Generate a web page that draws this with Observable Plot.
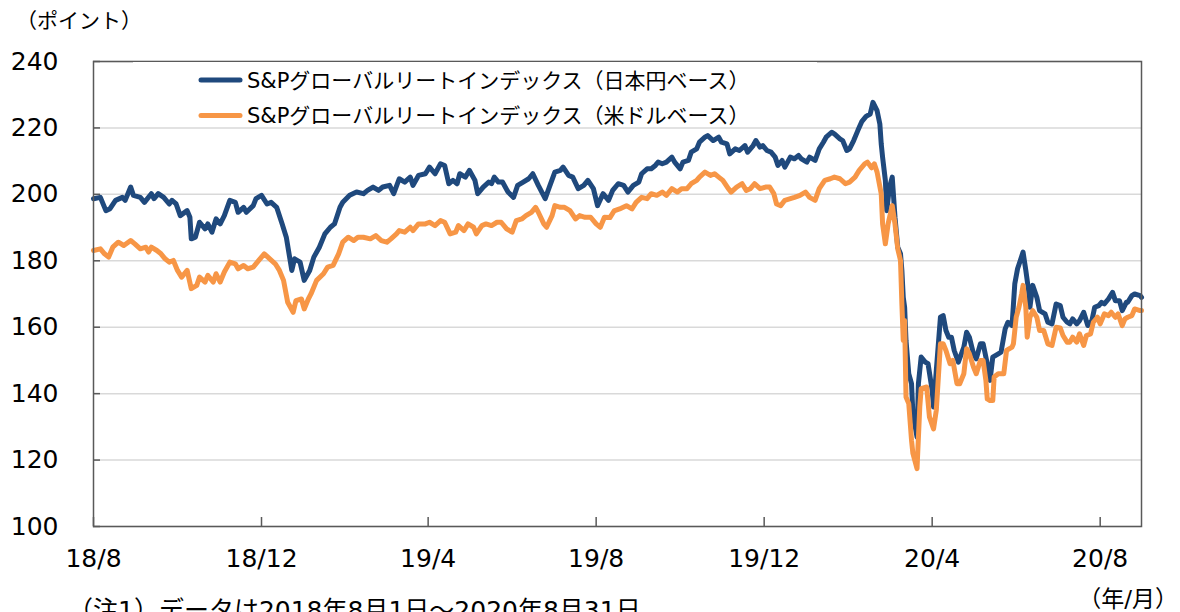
<!DOCTYPE html>
<html><head><meta charset="utf-8">
<script src="https://cdn.jsdelivr.net/npm/d3@7"></script>
<script src="https://cdn.jsdelivr.net/npm/@observablehq/plot@0.6"></script>
<style>body{margin:0;background:#fff;} svg{display:block}</style>
</head><body><div id="chart"></div>
<script>
const yTicks = [100,120,140,160,180,200,220,240];
const xTickDates = ["2018-08-01","2018-12-01","2019-04-01","2019-08-01","2019-12-01","2020-04-01","2020-08-01"];
const xTickLabels = ["18/8","18/12","19/4","19/8","19/12","20/4","20/8"];
const seriesNames = ["S&Pグローバルリートインデックス（日本円ベース）","S&Pグローバルリートインデックス（米ドルベース）"];
const seriesColors = ["#1F497D","#F79646"];
const yUnitLabel = "（ポイント）";
const xUnitLabel = "（年/月）";
const noteText = "（注1）データは2018年8月1日～2020年8月31日";

const jpySeries = [
["2018-08-01",198.7],["2018-08-06",199.1],["2018-08-10",195.1],["2018-08-13",195.7],["2018-08-17",198.2],["2018-08-22",199.1],["2018-08-24",198.2],["2018-08-28",202.2],["2018-08-30",199.7],
["2018-09-04",199.1],["2018-09-07",197.6],["2018-09-12",200.2],["2018-09-14",198.7],["2018-09-17",200.2],["2018-09-21",199.1],["2018-09-25",197.1],["2018-09-27",198.2],["2018-09-30",197.1],
["2018-10-03",193.6],["2018-10-08",195.1],["2018-10-10",193.1],["2018-10-11",186.6],["2018-10-14",187.1],["2018-10-17",191.6],["2018-10-21",189.6],["2018-10-23",191.1],["2018-10-26",188.6],["2018-10-29",192.6],
["2018-11-01",191.1],["2018-11-04",193.6],["2018-11-08",198.2],["2018-11-12",197.6],["2018-11-14",194.6],["2018-11-18",196.1],["2018-11-20",194.6],["2018-11-25",196.6],["2018-11-27",198.7],
["2018-12-01",199.7],["2018-12-05",197.1],["2018-12-08",197.6],["2018-12-12",196.1],["2018-12-16",191.1],["2018-12-19",187.1],["2018-12-23",177.1],["2018-12-25",180.6],["2018-12-29",179.6],
["2019-01-01",174.1],["2019-01-05",177.1],["2019-01-08",181.1],["2019-01-12",184.1],["2019-01-16",188.1],["2019-01-20",190.1],["2019-01-23",191.1],["2019-01-27",196.1],["2019-01-29",197.6],
["2019-02-03",199.7],["2019-02-08",200.7],["2019-02-13",200.2],["2019-02-16",201.2],["2019-02-20",202.2],["2019-02-24",201.2],["2019-02-27",202.2],
["2019-03-04",202.7],["2019-03-07",200.2],["2019-03-11",204.7],["2019-03-15",203.7],["2019-03-19",205.2],["2019-03-21",202.7],["2019-03-25",205.7],["2019-03-30",206.2],
["2019-04-02",208.2],["2019-04-06",206.2],["2019-04-10",209.2],["2019-04-13",208.7],["2019-04-16",203.2],["2019-04-19",204.2],["2019-04-22",203.2],["2019-04-24",206.2],["2019-04-28",205.2],
["2019-05-01",207.2],["2019-05-05",204.2],["2019-05-07",200.2],["2019-05-11",202.2],["2019-05-15",203.7],["2019-05-17",203.2],["2019-05-19",205.2],["2019-05-22",203.7],["2019-05-25",203.7],["2019-05-29",200.7],
["2019-06-02",199.1],["2019-06-05",202.7],["2019-06-09",203.7],["2019-06-13",204.7],["2019-06-16",206.2],["2019-06-20",202.7],["2019-06-25",198.7],["2019-06-28",202.2],
["2019-07-02",206.7],["2019-07-06",207.2],["2019-07-08",208.2],["2019-07-12",205.7],["2019-07-15",205.2],["2019-07-19",201.7],["2019-07-23",202.7],["2019-07-26",204.2],["2019-07-30",201.7],
["2019-08-02",196.6],["2019-08-06",200.2],["2019-08-10",198.2],["2019-08-13",201.2],["2019-08-17",203.2],["2019-08-21",202.7],["2019-08-24",200.7],["2019-08-28",202.7],
["2019-09-01",203.7],["2019-09-03",206.2],["2019-09-07",207.7],["2019-09-10",207.7],["2019-09-13",208.7],["2019-09-15",209.7],["2019-09-18",209.2],["2019-09-21",209.7],["2019-09-25",211.2],["2019-09-27",209.7],
["2019-10-01",207.7],["2019-10-03",209.7],["2019-10-07",210.2],["2019-10-09",212.7],["2019-10-13",213.7],["2019-10-15",215.7],["2019-10-19",217.2],["2019-10-21",217.7],["2019-10-25",216.2],["2019-10-29",217.2],["2019-10-31",215.7],
["2019-11-04",215.2],["2019-11-06",212.2],["2019-11-10",213.7],["2019-11-13",213.2],["2019-11-17",214.7],["2019-11-19",212.7],["2019-11-23",214.7],["2019-11-25",216.2],["2019-11-28",214.2],["2019-11-30",214.7],
["2019-12-03",213.2],["2019-12-06",212.7],["2019-12-09",211.2],["2019-12-11",208.7],["2019-12-14",210.2],["2019-12-16",208.2],["2019-12-20",211.2],["2019-12-23",210.7],["2019-12-26",211.7],["2019-12-28",210.7],
["2020-01-01",209.7],["2020-01-03",211.2],["2020-01-07",210.2],["2020-01-10",213.7],["2020-01-13",215.7],["2020-01-15",217.2],["2020-01-19",218.7],["2020-01-21",218.2],["2020-01-25",216.7],["2020-01-27",216.2],["2020-01-30",213.2],
["2020-02-01",213.7],["2020-02-04",216.2],["2020-02-07",219.2],["2020-02-10",222.0],["2020-02-13",223.5],["2020-02-16",224.2],["2020-02-18",227.7],["2020-02-21",225.2],["2020-02-23",221.2],["2020-02-24",215.2],["2020-02-25",211.2],["2020-02-27",204.2],["2020-02-28",195.1],
["2020-03-01",202.2],["2020-03-03",205.2],["2020-03-05",193.1],["2020-03-07",184.1],["2020-03-09",182.1],["2020-03-10",177.1],["2020-03-11",169.0],["2020-03-12",166.0],["2020-03-13",156.0],["2020-03-15",146.0],["2020-03-17",143.0],["2020-03-18",134.0],["2020-03-21",126.9],["2020-03-22",143.0],["2020-03-24",151.0],["2020-03-27",149.5],["2020-03-29",149.0],
["2020-04-01",141.0],["2020-04-02",136.0],["2020-04-04",147.0],["2020-04-07",163.0],["2020-04-09",163.5],["2020-04-11",159.0],["2020-04-13",157.0],["2020-04-15",157.0],["2020-04-17",153.0],["2020-04-20",149.5],["2020-04-24",154.0],["2020-04-26",158.5],["2020-04-28",157.0],
["2020-05-01",152.0],["2020-05-03",150.5],["2020-05-06",155.0],["2020-05-08",155.0],["2020-05-11",149.0],["2020-05-13",144.0],["2020-05-15",151.0],["2020-05-19",152.0],["2020-05-21",152.5],["2020-05-24",159.5],["2020-05-26",161.5],["2020-05-29",160.5],["2020-05-31",173.1],
["2020-06-02",177.6],["2020-06-04",180.1],["2020-06-06",182.6],["2020-06-08",177.1],["2020-06-10",171.1],["2020-06-11",166.0],["2020-06-13",172.6],["2020-06-16",169.0],["2020-06-18",165.0],["2020-06-22",164.0],["2020-06-24",161.5],["2020-06-27",161.0],["2020-06-30",167.0],
["2020-07-03",166.5],["2020-07-05",163.0],["2020-07-08",161.5],["2020-07-10",161.0],["2020-07-12",162.5],["2020-07-15",161.0],["2020-07-17",162.0],["2020-07-20",164.5],["2020-07-23",160.5],["2020-07-26",162.0],["2020-07-28",166.0],["2020-07-31",166.5],
["2020-08-02",167.5],["2020-08-04",167.0],["2020-08-07",168.5],["2020-08-10",170.5],["2020-08-12",168.0],["2020-08-15",168.0],["2020-08-17",165.0],["2020-08-20",167.5],["2020-08-21",167.5],["2020-08-24",169.5],["2020-08-26",170.0],["2020-08-30",169.5],["2020-08-31",169.0]
];

const usdSeries = [
["2018-08-01",183.1],["2018-08-06",183.6],["2018-08-09",182.1],["2018-08-12",181.1],["2018-08-15",184.1],["2018-08-19",185.6],["2018-08-23",184.6],["2018-08-28",186.1],["2018-08-31",185.1],
["2018-09-04",183.6],["2018-09-08",184.1],["2018-09-10",182.6],["2018-09-12",184.1],["2018-09-16",183.1],["2018-09-19",182.1],["2018-09-22",180.6],["2018-09-25",179.6],["2018-09-28",180.1],
["2018-10-01",177.1],["2018-10-04",175.1],["2018-10-08",177.1],["2018-10-11",171.6],["2018-10-15",172.6],["2018-10-17",175.1],["2018-10-21",173.6],["2018-10-23",175.6],["2018-10-27",173.6],["2018-10-29",176.1],
["2018-11-01",173.6],["2018-11-04",176.6],["2018-11-08",179.6],["2018-11-12",179.1],["2018-11-14",177.6],["2018-11-18",178.6],["2018-11-21",177.6],["2018-11-25",178.1],["2018-11-29",180.1],
["2018-12-03",182.1],["2018-12-07",180.6],["2018-12-11",179.1],["2018-12-14",177.1],["2018-12-17",174.1],["2018-12-20",167.5],["2018-12-24",164.5],["2018-12-26",168.0],["2018-12-30",168.5],
["2019-01-01",165.5],["2019-01-04",168.5],["2019-01-06",170.1],["2019-01-10",174.1],["2019-01-15",176.1],["2019-01-18",178.1],["2019-01-22",178.6],["2019-01-26",182.1],["2019-01-29",185.6],
["2019-02-02",187.1],["2019-02-06",186.1],["2019-02-09",187.1],["2019-02-13",187.1],["2019-02-18",186.6],["2019-02-22",187.6],["2019-02-26",186.1],
["2019-03-02",185.6],["2019-03-05",186.6],["2019-03-09",188.1],["2019-03-11",189.1],["2019-03-15",188.6],["2019-03-19",190.1],["2019-03-21",189.1],["2019-03-25",191.1],["2019-03-30",191.1],
["2019-04-02",191.6],["2019-04-06",190.6],["2019-04-10",192.1],["2019-04-13",191.6],["2019-04-17",188.1],["2019-04-21",188.6],["2019-04-23",190.6],["2019-04-27",189.1],["2019-04-30",191.1],
["2019-05-04",190.1],["2019-05-06",188.1],["2019-05-10",190.6],["2019-05-13",191.1],["2019-05-17",190.6],["2019-05-21",191.6],["2019-05-24",191.6],["2019-05-28",189.6],
["2019-06-01",188.6],["2019-06-04",192.1],["2019-06-08",192.6],["2019-06-11",193.6],["2019-06-15",194.6],["2019-06-18",196.1],["2019-06-20",194.6],["2019-06-24",191.1],["2019-06-26",190.1],["2019-06-30",193.6],
["2019-07-02",196.6],["2019-07-06",196.1],["2019-07-09",196.1],["2019-07-13",195.1],["2019-07-17",192.6],["2019-07-20",193.6],["2019-07-24",193.1],["2019-07-28",193.1],
["2019-08-01",191.1],["2019-08-04",190.1],["2019-08-07",193.1],["2019-08-11",193.0],["2019-08-14",195.0],["2019-08-18",195.6],["2019-08-23",196.6],["2019-08-27",195.6],["2019-08-30",197.6],
["2019-09-03",199.1],["2019-09-07",198.7],["2019-09-10",200.2],["2019-09-14",199.7],["2019-09-18",200.7],["2019-09-21",199.7],["2019-09-25",201.7],["2019-09-29",200.7],
["2019-10-02",201.7],["2019-10-06",201.7],["2019-10-09",203.2],["2019-10-13",204.2],["2019-10-15",205.2],["2019-10-19",206.7],["2019-10-23",205.7],["2019-10-26",206.2],["2019-10-29",205.2],
["2019-11-01",204.2],["2019-11-05",201.7],["2019-11-07",200.7],["2019-11-11",202.2],["2019-11-15",203.2],["2019-11-18",201.2],["2019-11-21",201.7],["2019-11-24",203.2],["2019-11-28",201.7],
["2019-12-02",202.2],["2019-12-05",202.2],["2019-12-08",200.2],["2019-12-10",197.1],["2019-12-13",196.6],["2019-12-16",198.2],["2019-12-20",198.7],["2019-12-23",199.1],["2019-12-27",199.7],["2019-12-31",200.7],
["2020-01-03",199.1],["2020-01-07",198.2],["2020-01-10",201.7],["2020-01-14",204.2],["2020-01-18",204.7],["2020-01-21",205.2],["2020-01-25",204.7],["2020-01-29",203.2],
["2020-02-01",203.7],["2020-02-05",205.2],["2020-02-08",207.2],["2020-02-12",209.2],["2020-02-14",209.7],["2020-02-17",208.0],["2020-02-19",209.2],["2020-02-21",206.7],["2020-02-24",200.2],["2020-02-25",191.1],["2020-02-27",185.1],["2020-02-29",191.1],
["2020-03-03",196.6],["2020-03-05",191.1],["2020-03-07",183.6],["2020-03-09",180.1],["2020-03-10",167.0],["2020-03-11",156.0],["2020-03-12",162.0],["2020-03-13",139.0],["2020-03-15",137.0],["2020-03-17",126.0],["2020-03-18",122.0],["2020-03-21",117.4],["2020-03-23",136.0],["2020-03-24",141.5],["2020-03-28",142.0],["2020-03-30",133.0],
["2020-04-02",129.4],["2020-04-04",135.0],["2020-04-07",155.0],["2020-04-09",155.0],["2020-04-11",153.0],["2020-04-14",149.0],["2020-04-16",150.0],["2020-04-19",143.0],["2020-04-21",143.0],["2020-04-24",146.0],["2020-04-26",153.5],["2020-04-28",152.0],
["2020-05-01",148.0],["2020-05-03",146.0],["2020-05-06",150.0],["2020-05-08",150.0],["2020-05-10",144.0],["2020-05-11",138.4],["2020-05-13",137.9],["2020-05-15",137.9],["2020-05-16",145.0],["2020-05-19",146.0],["2020-05-23",146.0],["2020-05-25",153.0],["2020-05-29",154.0],["2020-05-30",155.0],
["2020-06-01",163.0],["2020-06-03",166.0],["2020-06-05",170.1],["2020-06-06",172.6],["2020-06-08",166.0],["2020-06-09",157.0],["2020-06-11",163.0],["2020-06-13",165.0],["2020-06-16",163.0],["2020-06-18",159.0],["2020-06-21",159.0],["2020-06-24",155.0],["2020-06-27",154.5],["2020-06-30",160.0],
["2020-07-03",159.8],["2020-07-05",157.5],["2020-07-08",155.5],["2020-07-10",155.5],["2020-07-12",157.0],["2020-07-15",155.5],["2020-07-17",158.0],["2020-07-20",154.5],["2020-07-22",157.5],["2020-07-25",158.0],["2020-07-27",161.5],["2020-07-30",163.0],
["2020-08-01",161.0],["2020-08-04",164.0],["2020-08-07",163.5],["2020-08-09",164.5],["2020-08-12",163.0],["2020-08-14",164.0],["2020-08-17",160.5],["2020-08-19",162.5],["2020-08-21",163.0],["2020-08-24",163.5],["2020-08-26",165.5],["2020-08-30",165.0],["2020-08-31",165.0]
];

const rows = [
  ...jpySeries.map(([d, v]) => ({date: new Date(d), value: v, series: seriesNames[0]})),
  ...usdSeries.map(([d, v]) => ({date: new Date(d), value: v, series: seriesNames[1]}))
];
const xTicks = xTickDates.map(d => new Date(d));
const labelOf = d => xTickLabels[xTickDates.indexOf(d.toISOString().slice(0, 10))];
const numFont = "DejaVu Sans";
const jpFont = "DejaVu Sans, Noto Sans CJK JP, sans-serif";

const chart = Plot.plot({
  width: 1180, height: 612,
  marginLeft: 93, marginRight: 39, marginTop: 61, marginBottom: 86,
  style: {fontFamily: jpFont, fontSize: "25px", color: "#000", background: "#fff", overflow: "hidden"},
  x: {type: "utc", domain: [new Date("2018-08-01"), new Date("2020-08-31")]},
  y: {domain: [100, 240]},
  color: {domain: seriesNames, range: seriesColors},
  marks: [
    Plot.gridY(yTicks, {stroke: "#d9d9d9", strokeOpacity: 1, strokeWidth: 1.5}),
    Plot.line(rows, {x: "date", y: "value", z: "series", stroke: "series", strokeWidth: 5, strokeLinejoin: "round", strokeLinecap: "round"}),
    Plot.frame({stroke: "#595959", strokeWidth: 1.5}),
    Plot.axisY(yTicks, {tickSize: -7, stroke: "#595959", strokeWidth: 1.5, tickFormat: () => "", label: null}),
    Plot.axisY(yTicks, {tickSize: 0, tickPadding: 35, label: null, fill: "#000", fontSize: 25, fontFamily: numFont}),
    Plot.axisX(xTicks, {tickSize: -9, stroke: "#595959", strokeWidth: 1.5, tickFormat: () => "", label: null}),
    Plot.axisX(xTicks, {tickSize: 0, tickPadding: 23, tickFormat: labelOf, label: null, fill: "#000", fontSize: 25, fontFamily: numFont})
  ]
});

const svg = d3.select(chart);
// legend box
const lg = svg.append("g").attr("font-family", jpFont).attr("font-size", 21).attr("text-anchor", "start");
lg.append("rect").attr("x", 133).attr("y", 62).attr("width", 684).attr("height", 64.5).attr("fill", "#fff");
seriesNames.forEach((name, i) => {
  const cy = 80 + i * 35.5;
  lg.append("line").attr("x1", 201).attr("x2", 240).attr("y1", cy).attr("y2", cy)
    .attr("stroke", seriesColors[i]).attr("stroke-width", 5).attr("stroke-linecap", "round");
  lg.append("text").attr("x", 247).attr("y", cy).attr("dy", "0.36em").attr("fill", "#000").text(name);
});
svg.append("text").attr("x", 16).attr("y", 28).attr("text-anchor", "start").attr("font-family", jpFont).attr("font-size", 21).attr("fill", "#000").text(yUnitLabel);
svg.append("text").attr("x", 1178).attr("y", 607).attr("text-anchor", "end").attr("font-family", jpFont).attr("font-size", 23).attr("fill", "#000").text(xUnitLabel);
svg.append("text").attr("x", 68).attr("y", 619).attr("text-anchor", "start").attr("font-family", jpFont).attr("font-size", 25).attr("fill", "#000").text(noteText);

document.getElementById("chart").appendChild(chart);
</script>
</body></html>
